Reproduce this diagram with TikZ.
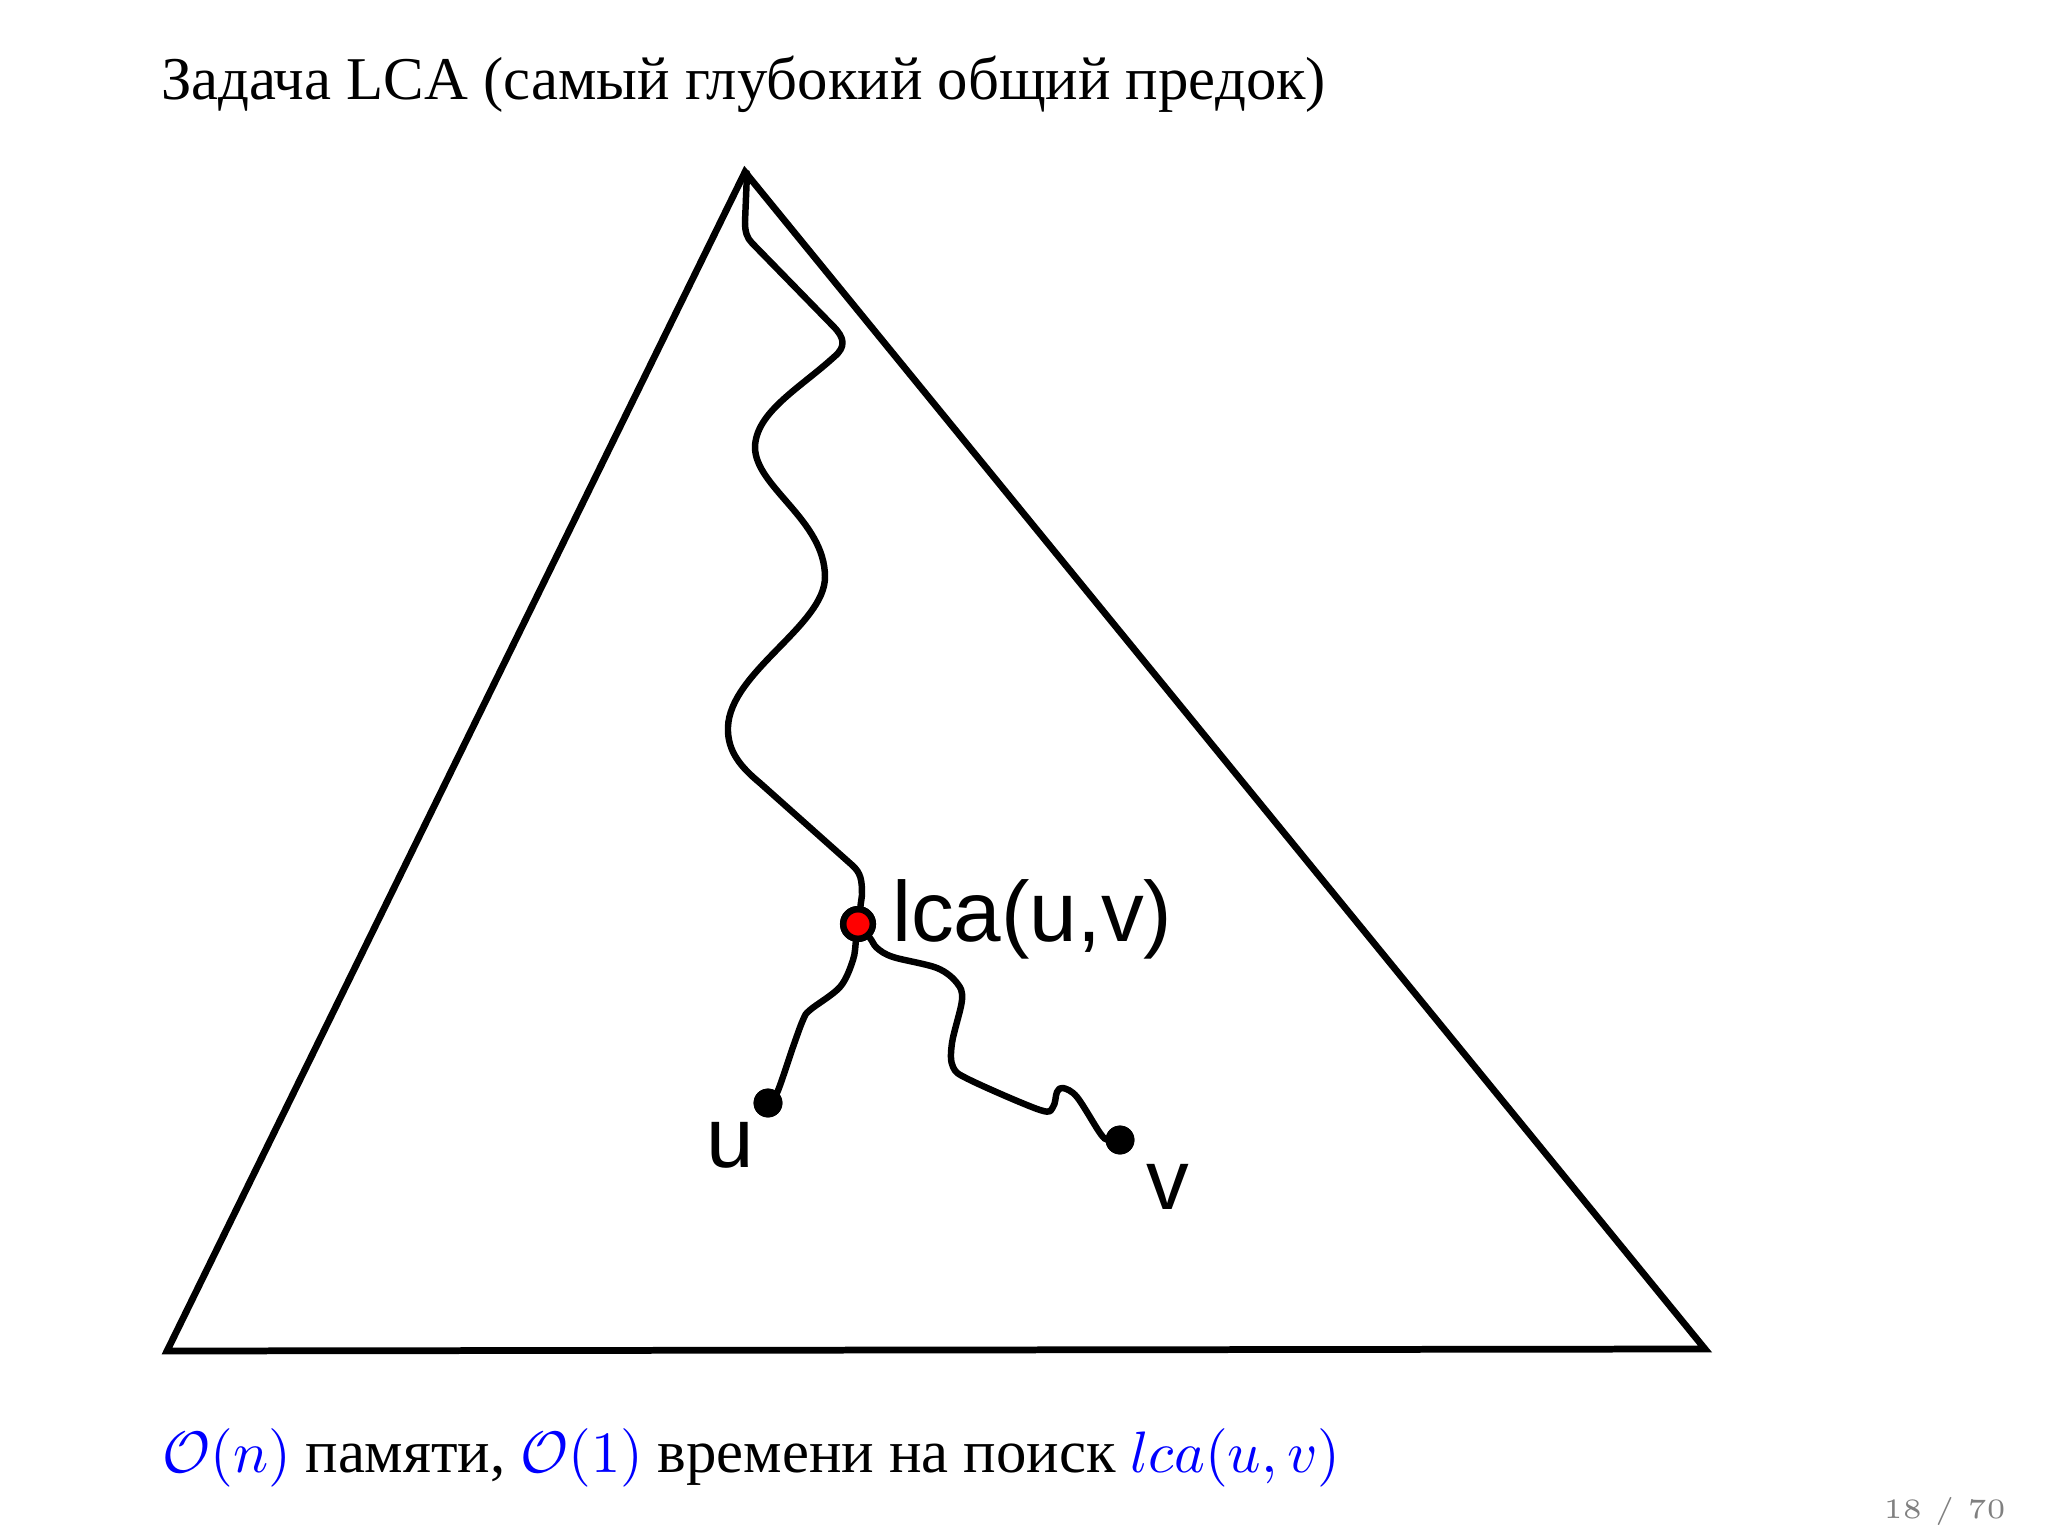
\RequirePackage{fix-cm}
\documentclass[tikz,border=0pt]{standalone}
\usepackage{fontspec}
\newfontfamily\cyr{Liberation Serif}
\newfontfamily\lblfont{Liberation Sans}
\newcommand{\cy}[1]{{\fontsize{10.8pt}{12pt}\selectfont #1}}
\begin{document}
\begin{tikzpicture}[x=0.0625mm,y=-0.0625mm,
  tri/.style={line width=1.2pt,line join=miter},
  edge/.style={line width=1.15pt,line cap=round,line join=round},
  leaf/.style={circle,fill=black,inner sep=0pt,minimum size=1.8mm},
  lcadot/.style={circle,draw=black,line width=1.15pt,fill=red,inner sep=0pt,minimum size=1.85mm},
  lbl/.style={font=\lblfont\fontsize{15.2pt}{17pt}\selectfont,inner sep=0pt,anchor=base west},
  txt/.style={font=\cyr\fontsize{10.4pt}{12pt}\selectfont,inner sep=0pt,anchor=base west},
  pagenum/.style={font=\fontsize{5.0pt}{6pt}\selectfont,text=black!50,inner sep=0pt,anchor=base east}]
\fill[white] (0,0) rectangle (2048,1536);
\useasboundingbox (0,0) rectangle (2048,1536);

% title
\node[txt] (title) at (160,100) {\cy{Задача LCA (самый глубокий общий предок)}};

% triangle
\coordinate (top) at (745,172);
\coordinate (bl) at (167,1351);
\coordinate (br) at (1705,1349);
\draw[tri] (top) -- (bl) -- (br) -- cycle;

% nodes
\coordinate (root) at (747,173);
\node[lcadot] (lca) at (858,924) {};
\node[leaf] (u) at (768,1103) {};
\node[leaf] (v) at (1120,1140) {};

% paths
\draw[edge] (root) -- (745,222) .. controls (745,232) and (747,238) .. (752,243)
  -- (833,326) .. controls (845,338) and (846,347) .. (834,357)
  .. controls (800,388) and (756,412) .. (755,447)
  .. controls (755,487) and (825,520) .. (825,577)
  .. controls (825,625) and (730,672) .. (728,727)
  .. controls (727,752) and (742,768) .. (760,783)
  -- (852,865) .. controls (861,873) and (862,880) .. (862,895) -- (lca);
\draw[edge] plot[smooth,tension=0.55] coordinates {(lca) (856,940) (853,960) (840,987) (810,1010) (803,1020) (793,1047) (777,1093) (u)};
\draw[edge] plot[smooth,tension=0.55] coordinates {(lca) (870,938) (877,948) (893,957) (937,968) (957,983) (962,1000) (952,1043) (953,1067) (970,1080) (1040,1110) (1053,1107) (1057,1092) (1063,1088) (1077,1097) (1100,1133) (1108,1140) (v)};

% redraw dots on top
\node[lcadot] at (lca) {};
\node[leaf] at (u) {};
\node[leaf] at (v) {};

% labels
\node[lbl] (lcalbl) at (891,941) {lca(u,v)};
\node[lbl] (ulbl) at (705,1167) {u};
\node[lbl] (vlbl) at (1145,1209) {v};

% bottom text
\node[txt] (bottom) at (161,1472) {\textcolor{blue}{$\mathcal{O}(n)$} \cy{памяти,} \textcolor{blue}{$\mathcal{O}(1)$} \cy{времени на поиск} \textcolor{blue}{$lca(u,v)$}};

% page number
\node[pagenum] (page) at (2007,1518) {18 / 70};
\end{tikzpicture}
\end{document}
